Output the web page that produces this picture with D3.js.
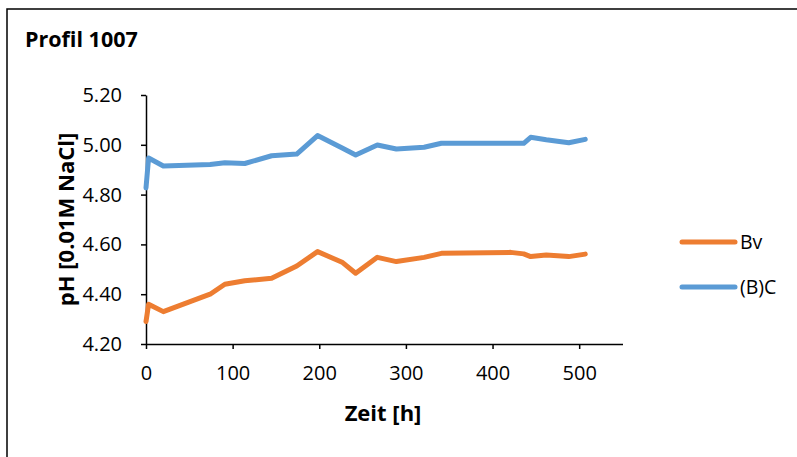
<!DOCTYPE html>
<html>
<head>
<meta charset="utf-8">
<script src="https://cdn.jsdelivr.net/npm/d3@7"></script>
<style>
  html, body { margin: 0; padding: 0; background: #fff; }
  svg { display: block; font-family: "Open Sans", Lato, sans-serif; }
</style>
</head>
<body>
<svg id="chart" width="797" height="457"></svg>
<script>
// Time points (hours) of the measurements
const hours = [0, 3, 20, 74, 91, 114, 145, 174, 198, 227, 242, 267, 289, 321, 341, 421, 436, 444, 462, 488, 507];
// pH values per horizon
const phBv = [4.29, 4.36, 4.33, 4.40, 4.44, 4.454, 4.464, 4.513, 4.571, 4.527, 4.484, 4.548, 4.531, 4.548, 4.564, 4.568, 4.562, 4.551, 4.557, 4.551, 4.561];
const phBC = [4.827, 4.947, 4.915, 4.921, 4.928, 4.925, 4.956, 4.963, 5.037, 4.986, 4.959, 4.999, 4.983, 4.99, 5.006, 5.006, 5.006, 5.03, 5.02, 5.008, 5.022];
const seriesNames = ["Bv", "(B)C"];
const seriesColors = ["#ED7D31", "#5B9BD5"];
const xTicks = [0, 100, 200, 300, 400, 500];
const yTicks = [4.2, 4.4, 4.6, 4.8, 5.0, 5.2];

const svg = d3.select("#chart");

// chart frame
svg.append("rect")
  .attr("x", 7).attr("y", 9).attr("width", 800).attr("height", 460)
  .attr("fill", "#fff").attr("stroke", "#000").attr("stroke-width", 1.5);

svg.append("text")
  .attr("x", 25).attr("y", 47)
  .attr("font-size", 21.5).attr("font-weight", "bold").attr("fill", "#000")
  .text("Profil 1007");

const plotLeft = 146, plotRight = 622.5, plotTop = 95, plotBottom = 344;
const x = d3.scaleLinear().domain([0, 550]).range([plotLeft, plotRight]);
const y = d3.scaleLinear().domain([4.2, 5.2]).range([plotBottom, plotTop]);

const xAxis = svg.append("g")
  .attr("transform", `translate(0,${plotBottom})`)
  .call(d3.axisBottom(x).tickValues(xTicks).tickSize(5).tickSizeOuter(0).tickPadding(17).tickFormat(d3.format("d")));
const yAxis = svg.append("g")
  .attr("transform", `translate(${plotLeft},0)`)
  .call(d3.axisLeft(y).tickValues(yTicks).tickSize(5).tickSizeOuter(0).tickPadding(19).tickFormat(d3.format(".2f")));

[xAxis, yAxis].forEach(g => {
  g.select(".domain").attr("stroke", "#000").attr("stroke-width", 1.5);
  g.selectAll(".tick line").attr("stroke", "#000").attr("stroke-width", 1.5);
  g.selectAll(".tick text").attr("font-size", 20).attr("fill", "#000")
    .attr("font-family", "\"Open Sans\", Lato, sans-serif");
});

svg.append("text")
  .attr("x", 383).attr("y", 421)
  .attr("text-anchor", "middle")
  .attr("font-size", 22).attr("font-weight", "bold").attr("fill", "#000")
  .text("Zeit [h]");

svg.append("text")
  .attr("transform", `translate(74,${(plotTop + plotBottom) / 2}) rotate(-90)`)
  .attr("text-anchor", "middle")
  .attr("font-size", 22).attr("font-weight", "bold").attr("fill", "#000")
  .text("pH [0.01M NaCl]");

const line = d3.line().x(d => x(d[0])).y(d => y(d[1]));
[phBv, phBC].forEach((vals, i) => {
  svg.append("path")
    .datum(hours.map((h, k) => [h, vals[k]]))
    .attr("d", line)
    .attr("fill", "none")
    .attr("stroke", seriesColors[i])
    .attr("stroke-width", 5)
    .attr("stroke-linejoin", "round")
    .attr("stroke-linecap", "round");
});

// legend
const legend = svg.append("g");
seriesNames.forEach((name, i) => {
  const ly = 242 + i * 45;
  legend.append("line")
    .attr("x1", 682).attr("x2", 735).attr("y1", ly).attr("y2", ly)
    .attr("stroke", seriesColors[i]).attr("stroke-width", 5)
    .attr("stroke-linecap", "round");
  legend.append("text")
    .attr("x", 740).attr("y", ly + 7)
    .attr("font-size", 19.5).attr("fill", "#000")
    .text(name);
});
</script>
</body>
</html>
